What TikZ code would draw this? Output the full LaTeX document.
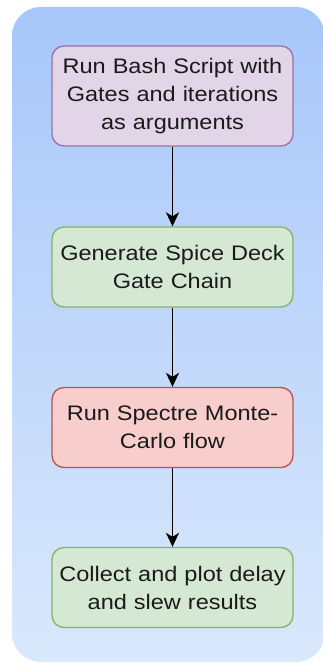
\documentclass[tikz,border=0pt]{standalone}
\usepackage{fontspec}
\setmainfont{Liberation Sans}[FakeStretch=1.12]
\usetikzlibrary{arrows.meta,positioning}
\definecolor{bgtop}{RGB}{167,199,250}
\definecolor{bgbot}{RGB}{218,232,252}
\definecolor{bashfill}{HTML}{E1D5E7}
\definecolor{bashline}{HTML}{9673A6}
\definecolor{okfill}{HTML}{D5E8D4}
\definecolor{okline}{HTML}{82B366}
\definecolor{simfill}{HTML}{F8CECC}
\definecolor{simline}{HTML}{B85450}
\definecolor{txt}{HTML}{1A1A1A}
\tikzset{
  stage/.style={
    shape = rectangle,
    rounded corners = 12pt,
    draw,
    line width = 1.3pt,
    minimum width = 241pt,
    minimum height = 80pt,
    text width = 232pt,
    align = center,
    text = txt,
    font = \fontsize{21}{28}\selectfont
  },
  bashstage/.style={
    stage,
    fill = bashfill,
    draw = bashline,
    minimum height = 100pt
  },
  okstage/.style={
    stage,
    fill = okfill,
    draw = okline
  },
  simstage/.style={
    stage,
    fill = simfill,
    draw = simline
  },
  flow/.style={
    line width = 1.8pt,
    -{Stealth[length=14pt,width=13pt,inset=4pt]}
  }
}
\begin{document}
\begin{tikzpicture}[x=1pt,y=-1pt]
        \useasboundingbox (0,0) rectangle (323,668);
        \clip (0,0) rectangle (323,668);
        % background panel
        \shade[top color=bgtop, bottom color=bgbot, rounded corners=29pt] (12,7) rectangle (325,662);
        \node[bashstage] (bash)  at (172.5,96)  {Run Bash Script with\\Gates and iterations\\as arguments};
        \node[okstage]   (deck)  at (172.5,267) {Generate Spice Deck\\Gate Chain};
        \node[simstage]  (mc)    at (172.5,427.5) {Run Spectre Monte-\\Carlo flow};
        \node[okstage]   (plot)  at (172.5,587.5) {Collect and plot delay\\and slew results};
        \draw[flow] (bash) -- (deck);
        \draw[flow] (deck) -- (mc);
        \draw[flow] (mc) -- (plot);
    \end{tikzpicture}
\end{document}
